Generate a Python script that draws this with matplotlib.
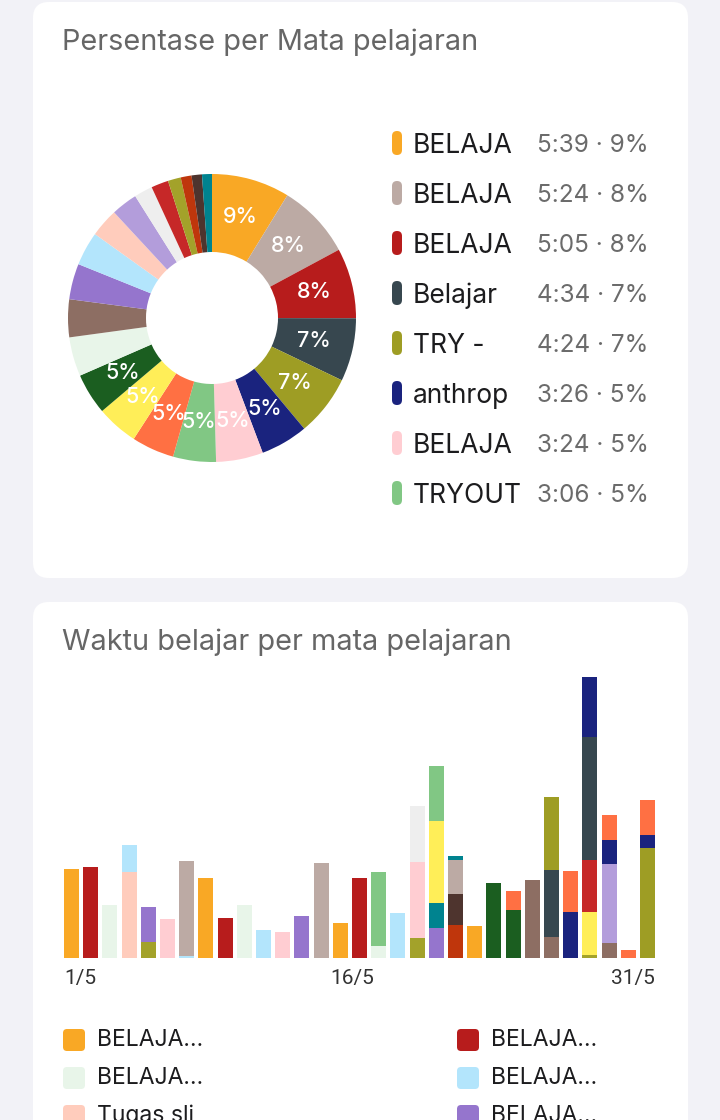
import numpy as np
import pandas as pd
import matplotlib
matplotlib.use('Agg')
import matplotlib.pyplot as plt
from matplotlib.patches import FancyBboxPatch

plt.rcParams['font.family'] = ['Inter', 'DejaVu Sans']

# --- SUBJECTS (pie order) ---
subjects = ['orange', 'taupe', 'red', 'slate', 'olive', 'navy', 'pink', 'green',
            'orred', 'yellow', 'dkgreen', 'lgreen', 'brown', 'purple', 'lblue',
            'peach', 'lavender', 'gray', 'red2', 'olive2', 'orred2', 'dkbrown', 'teal']
subject_names = ['BELAJA', 'BELAJA', 'BELAJA', 'Belajar', 'TRY -', 'anthrop', 'BELAJA',
                 'TRYOUT', 'BELAJA', 'BELAJA', 'BELAJA', 'BELAJA', 'BELAJA', 'BELAJA',
                 'BELAJA', 'Tugas sli', 'BELAJA', 'BELAJA', 'BELAJA', 'BELAJA', 'BELAJA',
                 'BELAJA', 'BELAJA']
subject_colors = ['#F9A825', '#BCAAA4', '#B71C1C', '#37474F', '#9E9D24', '#1A237E',
                  '#FFCDD2', '#81C784', '#FF7043', '#FFEE58', '#1B5E20', '#E8F5E9',
                  '#8D6E63', '#9575CD', '#B3E5FC', '#FFCCBC', '#B39DDB', '#EEEEEE',
                  '#C62828', '#A3A22A', '#BF360C', '#4E342E', '#00838F']

# --- DAILY SEGMENTS (minutes) ---
seg_day = [1, 2, 3, 4, 4, 5, 5, 6, 7, 7, 8, 9, 10, 11, 12, 13, 14, 15, 16, 17, 17, 18,
           19, 19, 19, 20, 20, 20, 20, 21, 21, 21, 21, 22, 23, 24, 24, 25, 26, 26, 26,
           27, 27, 28, 28, 28, 28, 28, 29, 29, 29, 29, 30, 31, 31, 31]
seg_subject = ['orange', 'red', 'lgreen', 'peach', 'lblue', 'olive2', 'purple', 'pink',
               'lblue', 'taupe', 'orange', 'red', 'lgreen', 'lblue', 'pink', 'purple',
               'taupe', 'orange', 'red', 'lgreen', 'green', 'lblue',
               'olive2', 'pink', 'gray', 'purple', 'teal', 'yellow', 'green',
               'orred2', 'dkbrown', 'taupe', 'teal', 'orange', 'dkgreen', 'dkgreen', 'orred',
               'brown', 'brown', 'slate', 'olive', 'navy', 'orred',
               'olive2', 'yellow', 'red2', 'slate', 'navy',
               'brown', 'lavender', 'navy', 'orred', 'orred', 'olive', 'navy', 'orred']
seg_minutes = [128, 132, 77, 124, 39, 23, 51, 57, 3, 137, 115, 58, 76, 40, 37, 61, 137,
               50, 115, 17, 107, 65, 29, 110, 80, 43, 37, 118, 79, 47, 45, 50, 6, 46, 109,
               70, 27, 112, 30, 97, 105, 66, 60, 4, 63, 75, 177, 87, 22, 114, 34, 37, 11,
               159, 19, 50]

# stacking order inside each bar (bottom -> top)
stack_order = ['olive2', 'peach', 'lblue', 'orred2', 'dkbrown', 'taupe', 'purple', 'teal',
               'yellow', 'lgreen', 'green', 'red2', 'brown', 'slate', 'olive', 'lavender',
               'navy', 'dkgreen', 'orred', 'pink', 'gray', 'orange', 'red']

# bar legend (visible rows)
bar_legend_subjects = ['orange', 'red', 'lgreen', 'lblue', 'peach', 'purple']
bar_legend_labels = ['BELAJA…', 'BELAJA…', 'BELAJA…', 'BELAJA…', 'Tugas sli', 'BELAJA…']

days = list(range(1, 32))
tick_days = [1, 16, 31]
tick_labels = ['1/5', '16/5', '31/5']

color_of = dict(zip(subjects, subject_colors))
name_of = dict(zip(subjects, subject_names))

df = pd.DataFrame({'day': seg_day, 'subject': seg_subject, 'minutes': seg_minutes})
table = df.pivot_table(index='day', columns='subject', values='minutes',
                       aggfunc='sum').reindex(days).fillna(0)
totals = df.groupby('subject')['minutes'].sum().reindex(subjects)
grand = totals.sum()

W, H = 720, 1120
fig = plt.figure(figsize=(7.2, 11.2), dpi=100)
fig.patch.set_facecolor('#F2F2F7')
bg = fig.add_axes([0, 0, 1, 1])
bg.set_xlim(0, W)
bg.set_ylim(H, 0)
bg.axis('off')


def px_axes(x0, y0, x1, y1):
    return fig.add_axes([x0 / W, 1 - y1 / H, (x1 - x0) / W, (y1 - y0) / H])


for y0, y1 in [(2, 578), (602, 1140)]:
    bg.add_patch(FancyBboxPatch((33, y0), 655, y1 - y0,
                                boxstyle='round,pad=0,rounding_size=16',
                                fc='white', ec='none'))

bg.text(62, 42, 'Persentase per Mata pelajaran', fontsize=20.8, color='#666666',
        va='center', ha='left')
bg.text(62, 642, 'Waktu belajar per mata pelajaran', fontsize=20.8, color='#666666',
        va='center', ha='left')

# --- DONUT ---
ax = px_axes(62, 168, 362, 468)
wedges, _ = ax.pie(totals.values, colors=[color_of[s] for s in subjects], radius=144,
                   startangle=90, counterclock=False,
                   wedgeprops=dict(width=78, linewidth=0))
ax.set_xlim(-150, 150)
ax.set_ylim(-150, 150)
ax.axis('off')
for w, m in zip(wedges, totals.values):
    pct = int(round(m / grand * 100))
    if pct >= 5:
        ang = np.deg2rad((w.theta1 + w.theta2) / 2)
        ax.text(105 * np.cos(ang), 105 * np.sin(ang), f'{pct}%', color='white',
                fontsize=15.5, fontweight='medium', ha='center', va='center')

# pie legend (top 8)
for i, s in enumerate(subjects[:8]):
    y = 143 + i * 50
    bg.add_patch(FancyBboxPatch((392, y - 12), 10, 24,
                                boxstyle='round,pad=0,rounding_size=5',
                                fc=color_of[s], ec='none'))
    m = int(totals[s])
    pct = int(round(m / grand * 100))
    bg.text(413, y + 3, name_of[s], fontsize=19, color='#1C1C1E', va='center', ha='left')
    bg.text(537, y + 3, f'{m // 60}:{m % 60:02d} · {pct}%', fontsize=17.5, color='#6B6B6B',
            va='center', ha='left')

# --- STACKED BARS ---
bar_w = 0.78
max_total = table.sum(axis=1).max()
bax = px_axes(60, 958 - max_total / 1.445, 660, 958)
bottom = np.zeros(len(days))
for s in stack_order:
    vals = table[s].values if s in table.columns else np.zeros(len(days))
    bax.bar(days, vals, bottom=bottom, width=bar_w, color=color_of[s], linewidth=0)
    bottom += vals
bax.set_xlim(0.4, 31.65)
bax.set_ylim(0, max_total)
for sp in bax.spines.values():
    sp.set_visible(False)
bax.set_yticks([])
bax.set_xticks([tick_days[0] - bar_w / 2, tick_days[1] - bar_w / 2, tick_days[2] + bar_w / 2])
bax.set_xticklabels(tick_labels, fontsize=15, color='#333333', family=['Roboto', 'DejaVu Sans'])
bax.tick_params(axis='x', length=0, pad=8)
for lab, ha in zip(bax.get_xticklabels(), ['left', 'center', 'right']):
    lab.set_ha(ha)

# bar legend
for i, (s, lab) in enumerate(zip(bar_legend_subjects, bar_legend_labels)):
    x = 63 if i % 2 == 0 else 457
    y = 1040 + (i // 2) * 38
    bg.add_patch(FancyBboxPatch((x, y - 11), 22, 22,
                                boxstyle='round,pad=0,rounding_size=4',
                                fc=color_of[s], ec='none'))
    bg.text(x + 34, y, lab, fontsize=16.5, color='#1C1C1E', va='center', ha='left')

fig.savefig('out.png', dpi=100, facecolor=fig.get_facecolor())
